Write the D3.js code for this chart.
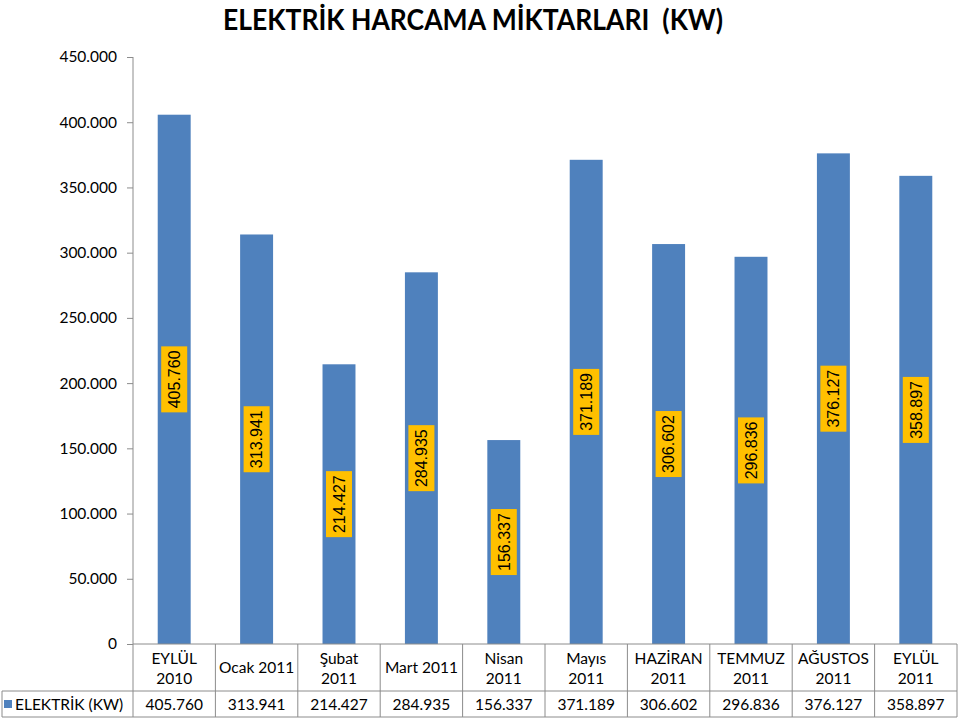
<!DOCTYPE html>
<html>
<head>
<meta charset="utf-8">
<script src="https://cdn.jsdelivr.net/npm/d3@7"></script>
<style>
	body { margin: 0; background: #fff; }
	svg { display: block; }
	text { font-family: Lato, 'Open Sans', sans-serif; fill: #000; }
</style>
</head>
<body>
<svg id="chart" width="960" height="720"></svg>
<script>
'use strict'

var title = 'ELEKTRİK HARCAMA MİKTARLARI  (KW)';
var seriesName = 'ELEKTRİK (KW)';
var months = [
	['EYLÜL', '2010'], ['Ocak 2011'], ['Şubat', '2011'], ['Mart 2011'], ['Nisan', '2011'],
	['Mayıs', '2011'], ['HAZİRAN', '2011'], ['TEMMUZ', '2011'], ['AĞUSTOS', '2011'], ['EYLÜL', '2011']
];
var values = [405760, 313941, 214427, 284935, 156337, 371189, 306602, 296836, 376127, 358897];
var yTicks = [0, 50000, 100000, 150000, 200000, 250000, 300000, 350000, 400000, 450000];

var blue = '#4F81BD', orange = '#FFC000', grey = '#8C8C8C';
var plotLeft = 133, plotRight = 957, plotTop = 57, base = 644;
var rowLine = 691, tableBottom = 717;

var tr = d3.formatLocale({ decimal: ',', thousands: '.', grouping: [3], currency: ['', ''] });
var fmt = tr.format(',');

var svg = d3.select('#chart');

var xScale = d3.scaleBand()
	.domain(d3.range(values.length))
	.range([plotLeft, plotRight])
	.paddingInner(0.6)
	.paddingOuter(0.3);

var yScale = d3.scaleLinear()
	.domain([0, 450000])
	.range([base, plotTop]);

svg.append('text')
	.attr('x', 473)
	.attr('y', 30)
	.attr('text-anchor', 'middle')
	.attr('font-size', 28)
	.attr('font-weight', 'bold')
	.attr('textLength', 500)
	.attr('lengthAdjust', 'spacingAndGlyphs')
	.style('white-space', 'pre')
	.text(title);

// y axis
var yAxis = svg.append('g')
	.attr('transform', `translate(${plotLeft},0)`)
	.call(d3.axisLeft(yScale).tickValues(yTicks).tickFormat(fmt).tickSize(6).tickPadding(10));
yAxis.select('.domain').remove();
yAxis.selectAll('line').attr('stroke', grey);
yAxis.selectAll('text').attr('font-size', 15.5).attr('font-family', 'Lato, sans-serif');

// bars
svg.append('g')
	.selectAll('rect')
	.data(values)
	.enter()
	.append('rect')
	.attr('x', function(d, i){ return xScale(i); })
	.attr('width', xScale.bandwidth())
	.attr('y', function(d){ return yScale(d); })
	.attr('height', function(d){ return base - yScale(d); })
	.attr('fill', blue);

// data labels, centred in the bars
var labels = svg.append('g')
	.selectAll('g')
	.data(values)
	.enter()
	.append('g')
	.attr('transform', function(d, i){
		return `translate(${xScale(i) + xScale.bandwidth()/2}, ${yScale(d/2)}) rotate(-90)`;
	});
labels.append('rect')
	.attr('x', -33)
	.attr('y', -13)
	.attr('width', 66)
	.attr('height', 26)
	.attr('fill', orange);
labels.append('text')
	.attr('text-anchor', 'middle')
	.attr('dy', '0.36em')
	.attr('font-size', 16)
	.style('font-family', "'Liberation Sans', Arial, sans-serif")
	.text(function(d){ return fmt(d); });

// axis lines and data table
var grid = svg.append('g').attr('stroke', grey).attr('stroke-width', 1).attr('fill', 'none');
grid.append('line').attr('x1', plotLeft).attr('x2', plotLeft).attr('y1', plotTop).attr('y2', tableBottom);
grid.append('line').attr('x1', plotLeft).attr('x2', plotRight).attr('y1', base).attr('y2', base);
grid.append('line').attr('x1', 2).attr('x2', plotRight).attr('y1', rowLine).attr('y2', rowLine);
grid.append('line').attr('x1', 2).attr('x2', plotRight).attr('y1', tableBottom).attr('y2', tableBottom);
grid.append('line').attr('x1', 2).attr('x2', 2).attr('y1', rowLine).attr('y2', tableBottom);
grid.selectAll('.sep')
	.data(d3.range(1, values.length + 1))
	.enter()
	.append('line')
	.attr('x1', function(i){ return plotLeft + i*xScale.step(); })
	.attr('x2', function(i){ return plotLeft + i*xScale.step(); })
	.attr('y1', base)
	.attr('y2', tableBottom);

var cats = svg.append('g')
	.selectAll('text')
	.data(months)
	.enter()
	.append('text')
	.attr('text-anchor', 'middle')
	.attr('font-size', 15.5)
	.attr('x', function(d, i){ return xScale(i) + xScale.bandwidth()/2; })
	.attr('y', function(d){ return d.length > 1 ? 664 : 673; });
cats.selectAll('tspan')
	.data(function(d){ return d; })
	.enter()
	.append('tspan')
	.attr('x', function(){ return this.parentNode.getAttribute('x'); })
	.attr('dy', function(d, j){ return j ? 20 : 0; })
	.text(function(d){ return d; });

svg.append('g')
	.selectAll('text')
	.data(values)
	.enter()
	.append('text')
	.attr('text-anchor', 'middle')
	.attr('font-size', 15.5)
	.attr('x', function(d, i){ return xScale(i) + xScale.bandwidth()/2; })
	.attr('y', 710)
	.text(function(d){ return fmt(d); });

// legend key in the table
svg.append('rect')
	.attr('x', 4)
	.attr('y', 700)
	.attr('width', 8)
	.attr('height', 8)
	.attr('fill', blue);
svg.append('text')
	.attr('x', 15)
	.attr('y', 710)
	.attr('font-size', 15.5)
	.text(seriesName);
</script>
</body>
</html>
